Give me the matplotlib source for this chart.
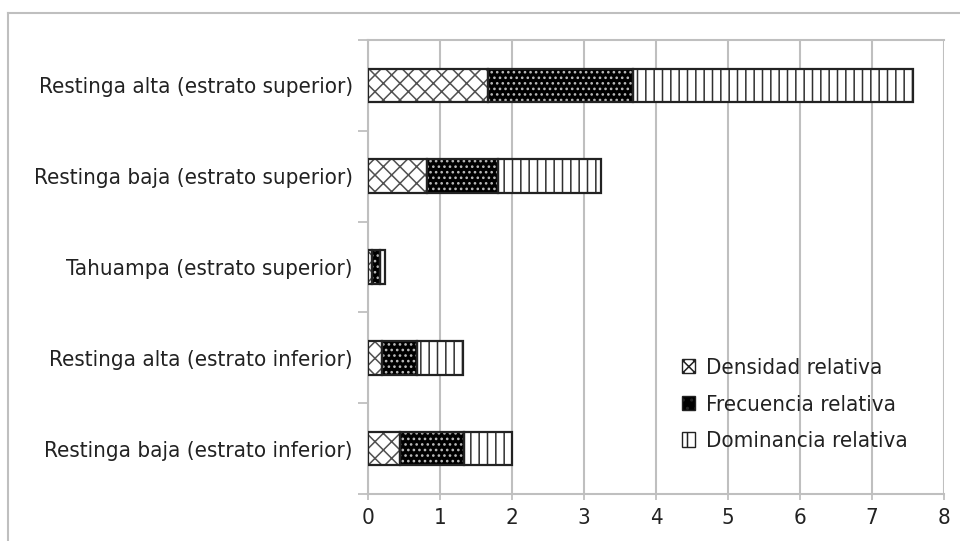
import matplotlib
matplotlib.use("Agg")
import matplotlib.pyplot as plt
from matplotlib.lines import Line2D
from matplotlib.patches import Patch

plt.rcParams['font.family'] = ['DejaVu Sans']
plt.rcParams['font.stretch'] = 'condensed'
plt.rcParams['hatch.linewidth'] = 1.1

categories = ["Restinga alta (estrato superior)",
              "Restinga baja (estrato superior)",
              "Tahuampa (estrato superior)",
              "Restinga alta (estrato inferior)",
              "Restinga baja (estrato inferior)"]
densidad = [1.67, 0.82, 0.06, 0.19, 0.44]
frecuencia = [2.01, 0.98, 0.11, 0.49, 0.89]
dominancia = [3.89, 1.44, 0.07, 0.64, 0.67]
series_names = ["Densidad relativa", "Frecuencia relativa", "Dominancia relativa"]

grid_c = "#bfbfbf"
fig = plt.figure(figsize=(9.6, 5.41), dpi=100)
ax = fig.add_axes([368/960, 1 - 494/541, 576/960, 454/541])

y = list(range(len(categories)))
h = 0.37
left2 = densidad
left3 = [a + b for a, b in zip(densidad, frecuencia)]

# densidad: cruzado
ax.barh(y, densidad, h, color="white", edgecolor="#505050", hatch="xx", lw=0, zorder=3)
# frecuencia: negro con puntos blancos
ax.barh(y, frecuencia, h, left=left2, color="black", edgecolor="#bbbbbb", hatch="...", lw=0, zorder=3)
# dominancia: lineas verticales
ax.barh(y, dominancia, h, left=left3, color="white", edgecolor="#303030", hatch="||", lw=0, zorder=3)
# contornos
for vals, lefts in [(densidad, [0]*5), (frecuencia, left2), (dominancia, left3)]:
    ax.barh(y, vals, h, left=lefts, fill=False, edgecolor="#222222", lw=1.6, zorder=4)

ax.set_ylim(4.5, -0.5)
ax.set_xlim(0, 8)
ax.set_xticks(range(9))
ax.set_yticks(y)
ax.set_yticklabels(categories)
ax.set_yticks([i - 0.5 for i in range(6)], minor=True)
ax.tick_params(axis='y', which='major', length=0, pad=11, labelsize=16, labelcolor="#222222")
ax.tick_params(axis='y', which='minor', length=7, color=grid_c, width=1.3)
ax.tick_params(axis='x', length=4, color=grid_c, width=1.3, labelsize=16, pad=6, labelcolor="#222222")
ax.grid(axis='x', color=grid_c, lw=1.5, zorder=0)
for side in ['left', 'bottom', 'top']:
    ax.spines[side].set_color(grid_c)
    ax.spines[side].set_linewidth(1.5)
ax.spines['right'].set_visible(False)

handles = [Patch(facecolor="white", edgecolor="#222222", hatch="xxx"),
           Patch(facecolor="black", edgecolor="#222222", hatch=".."),
           Patch(facecolor="white", edgecolor="#222222", hatch="||")]
leg = ax.legend(handles, series_names, loc="lower left", bbox_to_anchor=(0.51, 0.05),
                frameon=False, fontsize=16, handlelength=0.6, handleheight=0.6,
                handletextpad=0.5, labelspacing=0.75)
for t in leg.get_texts():
    t.set_color("#222222")

# marco exterior del grafico
fig.add_artist(Line2D([8/960, 8/960], [0, 1 - 13/541], color=grid_c, lw=1.5))
fig.add_artist(Line2D([8/960, 1], [1 - 13/541, 1 - 13/541], color=grid_c, lw=1.5))

fig.savefig("out.png", dpi=100)
